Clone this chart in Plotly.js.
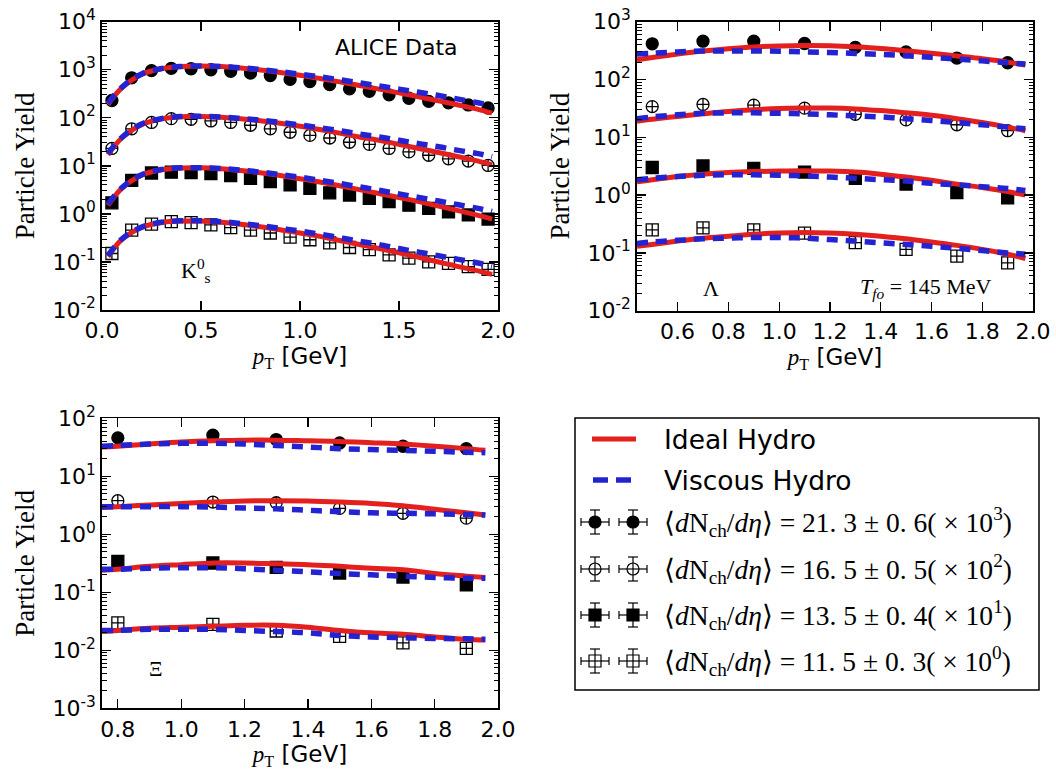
<!DOCTYPE html>
<html><head><meta charset="utf-8">
<script src="https://cdn.plot.ly/plotly-3.0.1.min.js"></script>
<style>html,body{margin:0;padding:0;background:#fff}#chart{width:1056px;height:776px}</style>
</head><body><div id="chart"></div>
<script>
// ---------- K0s panel ----------
const kX = [0.05,0.15,0.25,0.35,0.45,0.55,0.65,0.75,0.85,0.95,1.05,1.15,1.25,1.35,1.45,1.55,1.65,1.75,1.85,1.95];
const kData1 = [229,680,960,1070,1050,1000,930,850,760,630,570,490,400,355,300,255,220,205,185,160];
const kData2 = [23,59,80,96,93,86,80,70,59,50,43,38,31,28,23,19.5,16.6,14,12.6,10.2];
const kData3 = [1.7,5.0,7.1,7.4,7.2,6.9,6.3,5.5,4.7,4.0,3.4,2.75,2.47,2.1,1.8,1.52,1.3,1.1,0.95,0.78];
const kData4 = [0.15,0.46,0.61,0.69,0.66,0.59,0.52,0.46,0.40,0.33,0.29,0.25,0.20,0.18,0.14,0.12,0.10,0.093,0.08,0.07];
const kModelX = [0.03,0.1,0.2,0.3,0.4,0.5,0.6,0.7,0.8,0.9,1.0,1.1,1.2,1.3,1.4,1.5,1.6,1.7,1.8,1.9,1.97];
const kIdeal1 = [190,420,800,1050,1170,1200,1170,1090,990,880,770,660,560,470,395,330,275,225,185,150,125];
const kVisc1  = [200,430,820,1060,1170,1200,1170,1100,1010,910,810,710,620,535,460,395,340,290,245,205,180];
const kIdeal2 = [17,38,72,95,105,107,103,96,87,77,67,57,48,40,34,28,23,19,15.5,12.5,10.5];
const kVisc2  = [18,39,74,96,106,107,104,97,89,80,71,62,54,46,40,34,29,25,21,18,15.5];
const kIdeal3 = [1.5,3.4,6.4,8.3,9.0,9.1,8.7,8.0,7.2,6.3,5.4,4.6,3.85,3.2,2.65,2.2,1.8,1.45,1.17,0.93,0.78];
const kVisc3  = [1.6,3.5,6.5,8.4,9.1,9.1,8.8,8.2,7.4,6.6,5.8,5.0,4.3,3.65,3.1,2.6,2.2,1.85,1.55,1.3,1.12];
const kIdeal4 = [0.13,0.29,0.52,0.66,0.71,0.71,0.67,0.61,0.54,0.47,0.40,0.34,0.28,0.23,0.19,0.155,0.125,0.1,0.08,0.065,0.055];
const kVisc4  = [0.135,0.3,0.53,0.67,0.72,0.72,0.69,0.63,0.57,0.5,0.44,0.38,0.32,0.27,0.23,0.19,0.16,0.135,0.113,0.095,0.082];

// ---------- Lambda panel ----------
const lamX = [0.5,0.7,0.9,1.1,1.3,1.5,1.7,1.9];
const lamData1 = [415,460,460,420,360,300,235,195];
const lamData2 = [34,37,36,32,25,20,16.5,13];
const lamData3 = [3.0,3.2,2.9,2.5,1.95,1.55,1.1,0.9];
const lamData4 = [0.25,0.27,0.25,0.22,0.15,0.115,0.088,0.067];
const lamModelX = [0.44,0.5,0.6,0.7,0.8,0.9,1.0,1.1,1.2,1.3,1.4,1.5,1.6,1.7,1.8,1.9,1.97];
const lamIdeal1 = [220,240,275,310,340,365,380,388,385,370,345,315,285,255,228,200,178];
const lamVisc1  = [275,285,300,310,312,312,308,300,292,283,272,258,242,226,210,195,185];
const lamIdeal2 = [19,20.5,23,25.5,28,30,31.5,32,32,31,29,26.5,24,21,18,15,13];
const lamVisc2  = [21,22.5,24.5,26,26.5,26.5,26,25.5,24.5,23.5,22.5,21,19.5,18,16.5,15,14];
const lamIdeal3 = [1.7,1.85,2.1,2.3,2.45,2.55,2.62,2.65,2.6,2.5,2.3,2.05,1.8,1.55,1.35,1.15,1.0];
const lamVisc3  = [1.85,1.95,2.1,2.2,2.25,2.25,2.2,2.15,2.05,1.95,1.85,1.75,1.6,1.5,1.4,1.3,1.2];
const lamIdeal4 = [0.13,0.14,0.16,0.18,0.195,0.21,0.22,0.225,0.22,0.21,0.195,0.175,0.155,0.135,0.115,0.095,0.08];
const lamVisc4  = [0.145,0.155,0.165,0.175,0.18,0.185,0.185,0.18,0.17,0.16,0.15,0.14,0.13,0.12,0.11,0.1,0.095];

// ---------- Xi panel ----------
const xiX = [0.8,1.1,1.3,1.5,1.7,1.9];
const xiData1 = [46,51,43,37.5,33,30];
const xiData2 = [3.8,3.6,3.5,2.8,2.3,1.9];
const xiData3 = [0.34,0.32,0.27,0.215,0.183,0.135];
const xiData4 = [0.0296,0.028,0.0215,0.0174,0.0134,0.0108];
const xiModelX = [0.75,0.8,0.9,1.0,1.1,1.2,1.3,1.4,1.5,1.6,1.7,1.8,1.9,1.96];
const xiIdeal1 = [32,33,36,39,41,42,42,41,40,38,36,33,30,28];
const xiVisc1  = [33,34,36,37,37,36,34,32,30,29,28,27,26,25.5];
const xiIdeal2 = [2.9,3.0,3.2,3.4,3.6,3.75,3.8,3.75,3.6,3.4,3.1,2.7,2.35,2.15];
const xiVisc2  = [3.0,3.0,3.0,3.0,2.95,2.85,2.75,2.6,2.45,2.35,2.3,2.25,2.2,2.15];
const xiIdeal3 = [0.24,0.25,0.28,0.3,0.32,0.32,0.31,0.3,0.28,0.26,0.245,0.21,0.19,0.18];
const xiVisc3  = [0.25,0.25,0.26,0.265,0.265,0.255,0.24,0.225,0.21,0.2,0.19,0.18,0.175,0.175];
const xiIdeal4 = [0.021,0.022,0.024,0.025,0.026,0.027,0.027,0.025,0.022,0.02,0.019,0.017,0.0155,0.015];
const xiVisc4  = [0.022,0.022,0.023,0.023,0.023,0.022,0.021,0.02,0.018,0.017,0.0165,0.016,0.0158,0.0155];

// ---------- labels ----------
const seriesNames = [
  '⟨<i>d</i>N<sub>ch</sub>/<i>dη</i>⟩ = 21. 3 ± 0. 6( × 10<sup>3</sup>)',
  '⟨<i>d</i>N<sub>ch</sub>/<i>dη</i>⟩ = 16. 5 ± 0. 5( × 10<sup>2</sup>)',
  '⟨<i>d</i>N<sub>ch</sub>/<i>dη</i>⟩ = 13. 5 ± 0. 4( × 10<sup>1</sup>)',
  '⟨<i>d</i>N<sub>ch</sub>/<i>dη</i>⟩ = 11. 5 ± 0. 3( × 10<sup>0</sup>)'
];
const modelNames = ['Ideal Hydro','Viscous Hydro'];
const kTicks = [0,0.5,1.0,1.5,2.0];
const kTickText = ['0.0','0.5','1.0','1.5','2.0'];
const lamTicks = [0.6,0.8,1.0,1.2,1.4,1.6,1.8,2.0];
const lamTickText = ['0.6','0.8','1.0','1.2','1.4','1.6','1.8','2.0'];
const xiTicks = [0.8,1.0,1.2,1.4,1.6,1.8,2.0];
const xiTickText = ['0.8','1.0','1.2','1.4','1.6','1.8','2.0'];
const decadeExps = [-3,-2,-1,0,1,2,3,4];

// ---------- styling ----------
const W = 1056, H = 776;
const px = x => x / W, py = y => 1 - y / H;
const RED = '#e3201e', BLUE = '#2323d2';
const symbols = ['circle','circle-cross-open','square','square-cross-open'];

const panels = [
  {xa:'x', ya:'y', dx:kX, d:[kData1,kData2,kData3,kData4], mx:kModelX, ideal:[kIdeal1,kIdeal2,kIdeal3,kIdeal4], visc:[kVisc1,kVisc2,kVisc3,kVisc4]},
  {xa:'x2', ya:'y2', dx:lamX, d:[lamData1,lamData2,lamData3,lamData4], mx:lamModelX, ideal:[lamIdeal1,lamIdeal2,lamIdeal3,lamIdeal4], visc:[lamVisc1,lamVisc2,lamVisc3,lamVisc4]},
  {xa:'x3', ya:'y3', dx:xiX, d:[xiData1,xiData2,xiData3,xiData4], mx:xiModelX, ideal:[xiIdeal1,xiIdeal2,xiIdeal3,xiIdeal4], visc:[xiVisc1,xiVisc2,xiVisc3,xiVisc4]}
];

const traces = [];
panels.forEach(p => {
  p.d.forEach((vals, s) => traces.push({
    x: p.dx, y: vals, xaxis: p.xa, yaxis: p.ya, mode: 'markers', showlegend: false,
    name: seriesNames[s],
    marker: {symbol: symbols[s], size: 12, color: '#000', line: {color: '#000', width: 1.3}}
  }));
});
panels.forEach(p => {
  p.ideal.forEach(vals => traces.push({
    x: p.mx, y: vals, xaxis: p.xa, yaxis: p.ya, mode: 'lines', showlegend: false, name: modelNames[0],
    line: {color: RED, width: 5, shape: 'spline'}
  }));
});
panels.forEach(p => {
  p.visc.forEach(vals => traces.push({
    x: p.mx, y: vals, xaxis: p.xa, yaxis: p.ya, mode: 'lines', showlegend: false, name: modelNames[1],
    line: {color: BLUE, width: 5.5, dash: '11px,8px', shape: 'spline'}
  }));
});

function minorVals(lo, hi) {
  const v = [];
  for (let e = lo; e < hi; e++) for (let m = 2; m < 10; m++) v.push(m * Math.pow(10, e));
  return v;
}
function yax(dom, lo, hi, anchor) {
  const exps = decadeExps.filter(e => e >= lo && e <= hi);
  return {
    type: 'log', domain: [py(dom[1]), py(dom[0])], range: [lo, hi], anchor: anchor,
    tickvals: exps.map(e => Math.pow(10, e)), ticktext: exps.map(e => '10<sup>' + e + '</sup>'),
    ticks: 'inside', ticklen: 9, tickwidth: 1.3, tickcolor: '#000',
    minor: {ticks: 'inside', ticklen: 4.5, tickwidth: 1, tickcolor: '#000', tickvals: minorVals(lo, hi), showgrid: false},
    showline: true, linecolor: '#000', linewidth: 1.8, mirror: 'allticks',
    showgrid: false, zeroline: false, automargin: false,
    tickfont: {family: 'DejaVu Sans', size: 22, color: '#000'},
    title: {text: 'Particle Yield', font: {family: 'Liberation Serif', size: 27, color: '#000'}, standoff: 10}
  };
}
function xax(dom, range, tv, tt, anchor) {
  return {
    domain: [px(dom[0]), px(dom[1])], range: range, anchor: anchor,
    tickvals: tv, ticktext: tt, ticks: 'inside', ticklen: 9, tickwidth: 1.3, tickcolor: '#000',
    showline: true, linecolor: '#000', linewidth: 1.8, mirror: 'allticks',
    showgrid: false, zeroline: false, automargin: false,
    tickfont: {family: 'DejaVu Sans', size: 22, color: '#000'},
    title: {text: '<span style="font-family:Liberation Serif"><i>p</i><sub>T</sub></span> [GeV]',
            font: {family: 'DejaVu Sans', size: 23, color: '#000'}, standoff: 4}
  };
}

const shapes = [];
const annotations = [];
// legend box
shapes.push({type: 'rect', xref: 'paper', yref: 'paper', x0: px(575), x1: px(1039), y0: py(690), y1: py(418),
  line: {color: '#000', width: 1.5}, fillcolor: 'rgba(0,0,0,0)'});
const rows = [439, 480, 522, 569, 615, 661];
function seg(x0, y0, x1, y1, color, width) {
  shapes.push({type: 'line', xref: 'paper', yref: 'paper', x0: px(x0), y0: py(y0), x1: px(x1), y1: py(y1),
    line: {color: color, width: width}});
}
seg(592, rows[0], 636, rows[0], RED, 5);
seg(593, rows[1], 608, rows[1], BLUE, 5.5);
seg(616, rows[1], 631, rows[1], BLUE, 5.5);
function glyph(cx, cy, s) {
  seg(cx, cy - 12, cx, cy + 12, '#000', 1.2);
  seg(cx - 5, cy - 12, cx + 5, cy - 12, '#000', 1.2);
  seg(cx - 5, cy + 12, cx + 5, cy + 12, '#000', 1.2);
  seg(cx - 14, cy, cx + 14, cy, '#000', 1.2);
  seg(cx - 14, cy - 4, cx - 14, cy + 4, '#000', 1.2);
  seg(cx + 14, cy - 4, cx + 14, cy + 4, '#000', 1.2);
  const filled = (s === 0 || s === 2);
  shapes.push({type: (s < 2 ? 'circle' : 'rect'), xref: 'paper', yref: 'paper',
    xsizemode: 'pixel', ysizemode: 'pixel', xanchor: px(cx), yanchor: py(cy),
    x0: -6, x1: 6, y0: -6, y1: 6,
    line: {color: '#000', width: 1.2}, fillcolor: filled ? '#000' : 'rgba(0,0,0,0)'});
}
for (let s = 0; s < 4; s++) {
  glyph(595, rows[s + 2], s);
  glyph(633, rows[s + 2], s);
}
function label(x, y, text, family, size, xanchor) {
  annotations.push({xref: 'paper', yref: 'paper', x: px(x), y: py(y), xanchor: xanchor || 'center', yanchor: 'middle',
    showarrow: false, text: text, font: {family: family, size: size, color: '#000'}});
}
modelNames.forEach((t, i) => label(662, rows[i], t, 'DejaVu Sans', 26.5, 'left'));
seriesNames.forEach((t, i) => label(662, rows[i + 2], t, 'Liberation Serif', 27.5, 'left'));

// in-panel labels
label(396, 47, 'ALICE Data', 'DejaVu Sans', 22);
label(196, 270, 'K<sup>0</sup><sub>s</sub>', 'Liberation Serif', 22);
label(711, 288, 'Λ', 'Liberation Serif', 22);
label(925, 288, '<i>T<sub>fo</sub></i> = 145 MeV', 'Liberation Serif', 22);
label(156, 669, 'Ξ', 'Liberation Serif', 21);

const layout = {
  width: W, height: H, margin: {l: 0, r: 0, t: 0, b: 0},
  paper_bgcolor: '#fff', plot_bgcolor: '#fff', showlegend: false,
  xaxis: xax([102, 498], [0, 2.0], kTicks, kTickText, 'y'),
  yaxis: yax([21.7, 310], -2, 4, 'x'),
  xaxis2: xax([637, 1033], [0.44, 2.0], lamTicks, lamTickText, 'y2'),
  yaxis2: yax([21.7, 310.7], -2, 3, 'x2'),
  xaxis3: xax([102, 498], [0.75, 2.0], xiTicks, xiTickText, 'y3'),
  yaxis3: yax([418.3, 708.3], -3, 2, 'x3'),
  shapes: shapes, annotations: annotations
};
Plotly.newPlot('chart', traces, layout, {staticPlot: true});
</script></body></html>
